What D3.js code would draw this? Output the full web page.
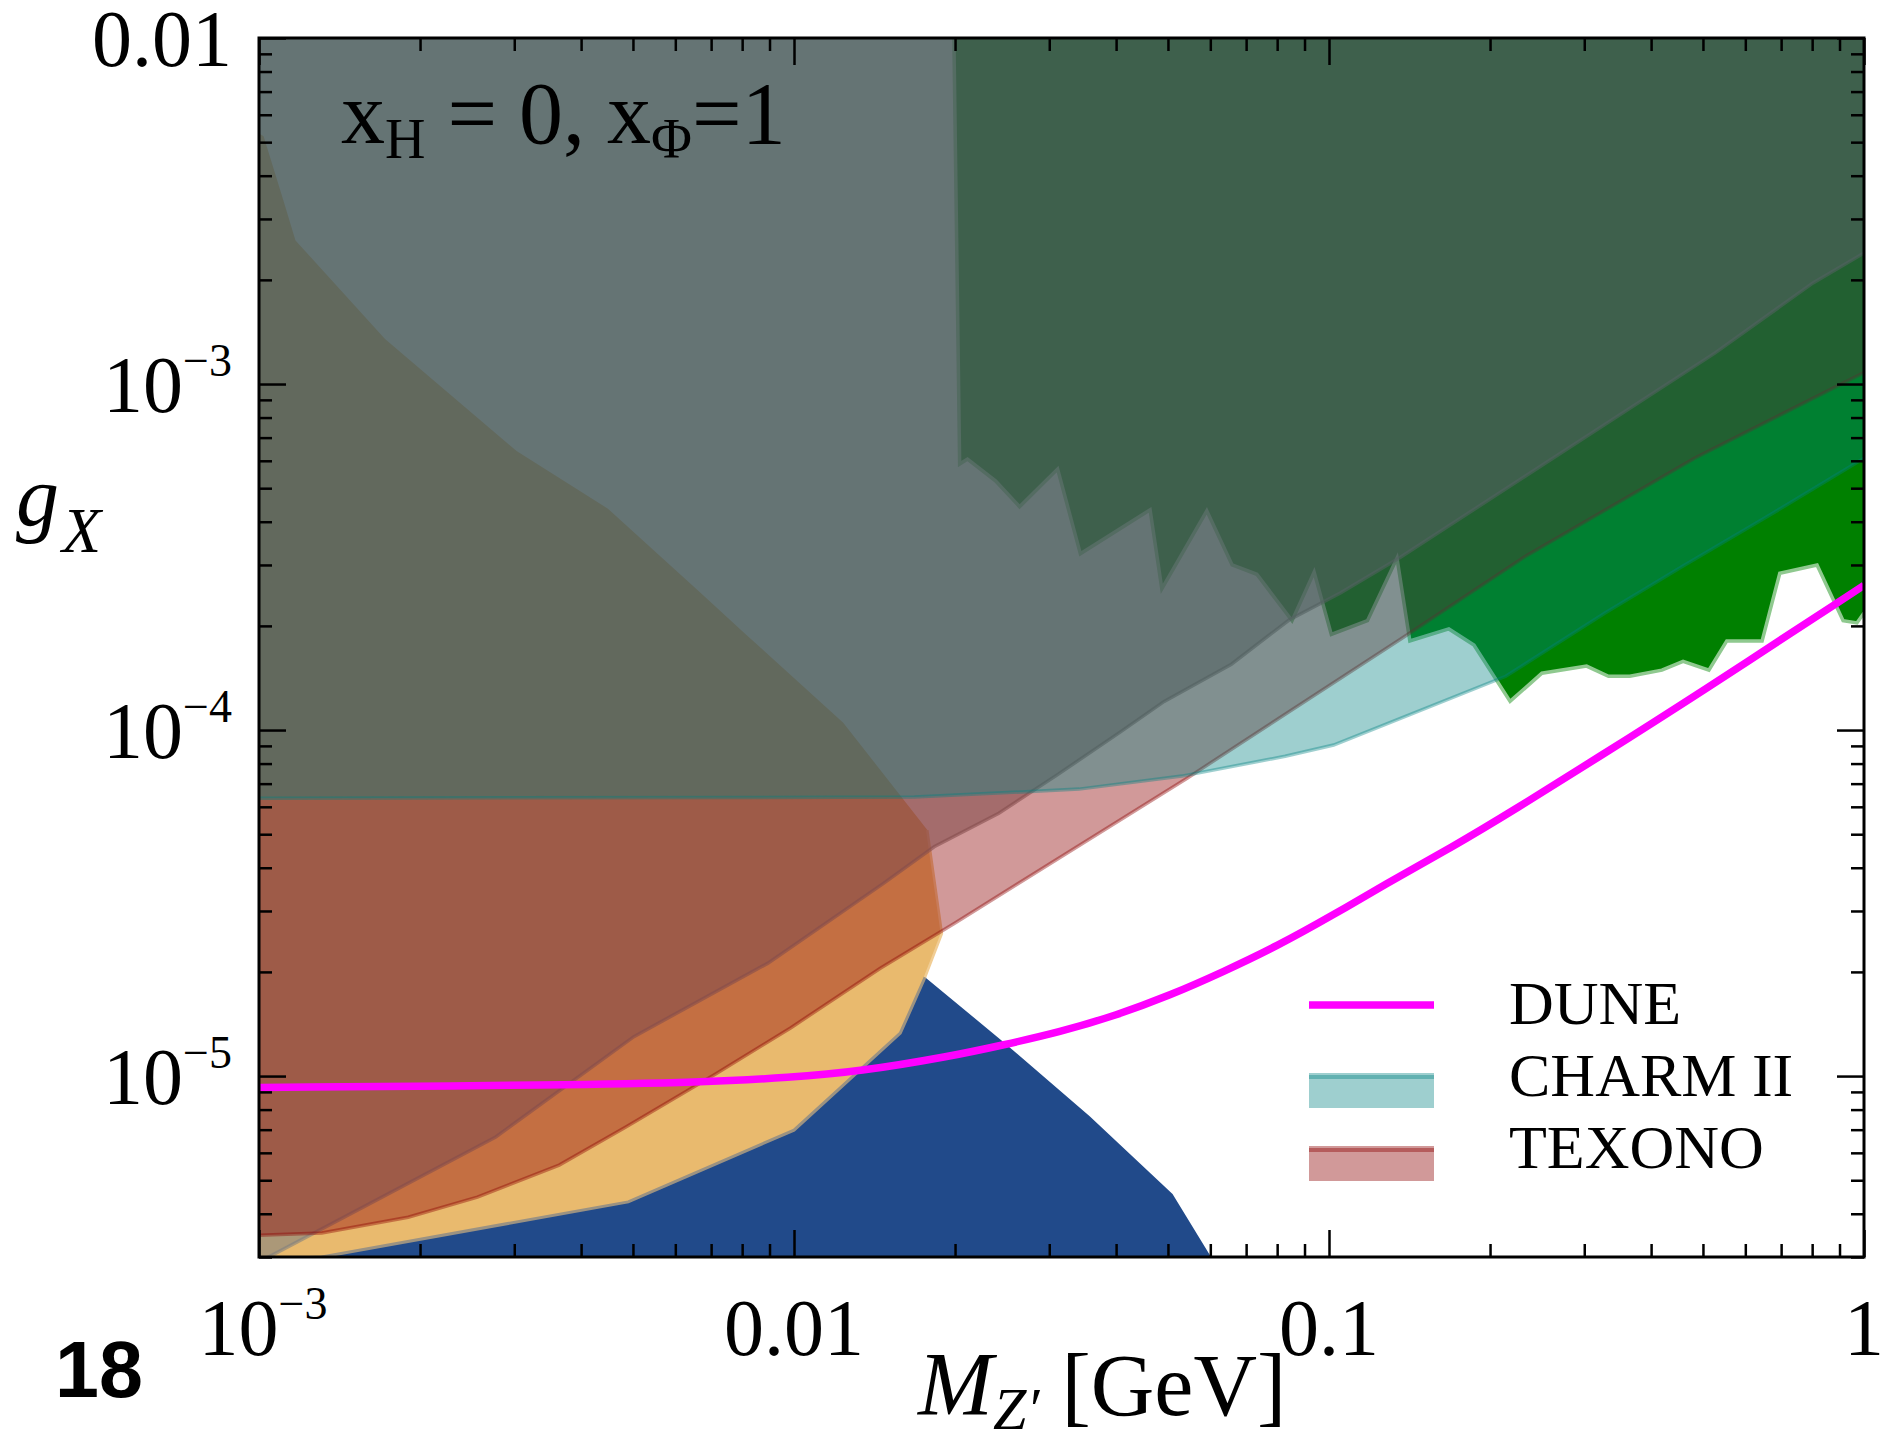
<!DOCTYPE html>
<html>
  <head>
    <meta charset="utf-8">
    <title>g_X vs M_Z' : DUNE, CHARM II, TEXONO</title>
    <script src="https://cdn.jsdelivr.net/npm/d3@7"></script>
    <style>
      body { margin: 0; background: #fff; }
      svg { display: block; }
      text { font-family: 'Liberation Serif', 'Times New Roman', serif; fill: #000; }
      text.panel { font-family: 'Liberation Sans', Arial, sans-serif; font-weight: bold; }
    </style>
  </head>
  <body>
    <svg></svg>
    <script>
      // every curve is a list of [M_Z' in GeV, g_X]
      let dune = [[1e-3, 9.27e-6], [3.77e-3, 9.42e-6], [6.7e-3, 9.6e-6], [9.87e-3, 9.9e-6],
                  [0.0132, 1.03e-5], [0.0196, 1.14e-5], [0.0246, 1.23e-5], [0.0314, 1.34e-5],
                  [0.0401, 1.50e-5], [0.0504, 1.71e-5], [0.0634, 2.0e-5], [0.0798, 2.37e-5],
                  [0.1018, 2.92e-5], [0.1264, 3.56e-5], [0.1684, 4.55e-5], [0.223, 5.9e-5],
                  [0.317, 8.3e-5], [0.478, 1.24e-4], [1, 2.62e-4]];

      let charm = [[1e-3, 6.35e-5], [0.0168, 6.4e-5], [0.0341, 6.75e-5], [0.0531, 7.36e-5],
                   [0.0828, 8.4e-5], [0.102, 9.05e-5], [0.136, 1.08e-4], [0.214, 1.43e-4],
                   [0.328, 2.18e-4], [0.459, 2.98e-4], [0.644, 4.05e-4], [1, 6.1e-4]];

      let texono = [[1e-3, 3.47e-6], [1.31e-3, 3.52e-6], [1.9e-3, 3.91e-6], [2.56e-3, 4.47e-6],
                    [3.64e-3, 5.53e-6], [4.85e-3, 7.13e-6], [7.11e-3, 1.01e-5], [9.87e-3, 1.38e-5],
                    [0.0145, 2.05e-5], [0.02, 2.77e-5], [0.0543, 7.26e-5], [0.136, 1.83e-4],
                    [0.233, 3.18e-4], [0.483, 6.11e-4], [1, 1.08e-3]];

      // lower edge of the big grey bound
      let grayEdge = [[1e-3, 2.9e-6], [1.62e-3, 4.3e-6], [2.77e-3, 6.67e-6], [5.02e-3, 1.3e-5],
                      [8.94e-3, 2.12e-5], [0.01472, 3.61e-5], [0.01828, 4.6e-5], [0.02415, 5.75e-5],
                      [0.031, 7.41e-5], [0.0407, 9.86e-5], [0.0492, 1.21e-4], [0.0657, 1.55e-4],
                      [0.0842, 2.08e-4], [0.105, 2.49e-4], [0.136, 3.16e-4], [0.233, 5.42e-4],
                      [0.527, 1.23e-3], [0.803, 1.96e-3], [1, 2.39e-3]];

      // jagged lower edge of the green bound
      let greenEdge = [[0.0199, 1e-2], [0.0204, 5.87e-4], [0.0211, 6.07e-4], [0.0238, 5.25e-4],
                       [0.0264, 4.42e-4], [0.0311, 5.68e-4], [0.0343, 3.23e-4], [0.0463, 4.33e-4],
                       [0.0487, 2.56e-4], [0.0591, 4.3e-4], [0.0659, 3.0e-4], [0.0733, 2.82e-4],
                       [0.0853, 2.07e-4], [0.0938, 2.86e-4], [0.101, 1.89e-4], [0.118, 2.07e-4],
                       [0.134, 3.14e-4], [0.1416, 1.81e-4], [0.1675, 1.96e-4], [0.1866, 1.76e-4],
                       [0.218, 1.21e-4], [0.25, 1.46e-4], [0.303, 1.53e-4], [0.333, 1.43e-4],
                       [0.365, 1.43e-4], [0.419, 1.49e-4], [0.459, 1.58e-4], [0.513, 1.49e-4],
                       [0.554, 1.81e-4], [0.645, 1.81e-4], [0.696, 2.84e-4], [0.817, 3.0e-4],
                       [0.914, 2.07e-4], [0.97, 2.04e-4], [1, 2.18e-4]];

      // yellow bound: lower edge (shared with the blue one), then right and upper edge
      let yellowLower = [[1e-3, 2.95e-6], [1.31e-3, 3.0e-6], [4.9e-3, 4.33e-6], [0.01, 6.98e-6],
                         [0.0158, 1.33e-5], [0.01758, 1.93e-5]];
      let yellowUpper = [[0.0189, 2.58e-5], [0.01775, 5.14e-5], [0.01236, 1.05e-4], [8.13e-3, 1.89e-4],
                         [6.67e-3, 2.5e-4], [4.49e-3, 4.36e-4], [3.03e-3, 6.4e-4], [1.72e-3, 1.35e-3],
                         [1.17e-3, 2.6e-3], [1.11e-3, 3.4e-3], [1.02e-3, 5.2e-3], [1e-3, 5.3e-3]];

      // right edge of the blue bound
      let blueRight = [[0.0244, 1.27e-5], [0.0357, 7.66e-6], [0.051, 4.56e-6], [0.061, 2.9e-6]];

      let yMajor = [1e-2, 1e-3, 1e-4, 1e-5];
      let yLabels = [["0.01", ""], ["10", "−3"], ["10", "−4"], ["10", "−5"]];
      let xMajor = [1e-3, 1e-2, 1e-1, 1];
      let xLabels = [["10", "−3"], ["0.01", ""], ["0.1", ""], ["1", ""]];
      let legendNames = ["DUNE", "CHARM II", "TEXONO"];

      let w = 1894, h = 1441;
      let margin = {top: 38, bottom: 184, left: 259, right: 30};

      let x = d3.scaleLog()
                .domain([1e-3, 1])
                .range([margin.left, w - margin.right]);
      let y = d3.scaleLog()
                .domain([3e-6, 1e-2])
                .range([h - margin.bottom, margin.top]);

      let svg = d3.select("svg")
                  .attr("width", w)
                  .attr("height", h)
                  .attr("viewBox", `0 0 ${w} ${h}`);

      svg.append("clipPath")
         .attr("id", "plotClip")
         .append("rect")
         .attr("x", margin.left)
         .attr("y", margin.top)
         .attr("width", w - margin.right - margin.left)
         .attr("height", h - margin.bottom - margin.top);

      let plot = svg.append("g").attr("clip-path", "url(#plotClip)");

      let line = d3.line().x(d => x(d[0])).y(d => y(d[1]));
      let smooth = d3.line().x(d => x(d[0])).y(d => y(d[1])).curve(d3.curveBasis);
      let above = d3.area().x(d => x(d[0])).y0(d => y(d[1])).y1(margin.top - 20);

      //blue and yellow bounds, opaque
      plot.append("path")
          .attr("d", line(yellowLower.slice(1).concat(blueRight)) + "Z")
          .attr("fill", "#214a8a");

      plot.append("path")
          .attr("d", line(yellowLower.concat(yellowUpper)) + "Z")
          .attr("fill", "#e9ba6e");

      plot.append("path")
          .attr("d", line(yellowLower))
          .attr("fill", "none")
          .attr("stroke", "#9b9282")
          .attr("stroke-width", 3);

      plot.append("path")
          .attr("d", line(yellowLower.slice(-1).concat(yellowUpper.slice(0, 2))))
          .attr("fill", "none")
          .attr("stroke", "#f1cd94")
          .attr("stroke-width", 2.5);

      //green bound with its light outline
      plot.append("path")
          .attr("d", above(greenEdge))
          .attr("fill", "#008000");

      plot.append("path")
          .attr("d", line(greenEdge))
          .attr("fill", "none")
          .attr("stroke", "#8fc98f")
          .attr("stroke-width", 3.5);

      //translucent bounds, stacked like the original
      let bands = [
        {edge: grayEdge, color: "#808080", alpha: 0.59, lw: 3.5},
        {edge: texono, color: "#8b0000", alpha: 0.4, lw: 3.5},
        {edge: charm, color: "#008080", alpha: 0.38, lw: 3.5}
      ];

      bands.forEach(b => {
        plot.append("path")
            .attr("d", above(b.edge))
            .attr("fill", b.color)
            .attr("fill-opacity", b.alpha);

        plot.append("path")
            .attr("d", line(b.edge))
            .attr("fill", "none")
            .attr("stroke", b.color)
            .attr("stroke-opacity", b.alpha)
            .attr("stroke-width", b.lw);
      });

      //DUNE sensitivity
      plot.append("path")
          .attr("d", smooth(dune))
          .attr("fill", "none")
          .attr("stroke", "#ff00ff")
          .attr("stroke-width", 7.5);

      //ticks on all four sides, pointing inward
      let isDecade = v => Math.abs(Math.log10(v) - Math.round(Math.log10(v))) < 1e-6;
      let xMinor = x.ticks().filter(v => !isDecade(v));
      let yMinor = y.ticks().filter(v => !isDecade(v));

      let addTicks = (axis, tx, ty, values, size) => {
        svg.append("g")
           .attr("transform", `translate(${tx},${ty})`)
           .call(axis.tickValues(values).tickSize(size).tickFormat(() => ""))
           .call(g => g.select(".domain").remove())
           .call(g => g.selectAll("line").attr("stroke-width", 2.5));
      };

      let x0 = margin.left, x1 = w - margin.right;
      let y0 = h - margin.bottom, y1 = margin.top;

      addTicks(d3.axisBottom(x), 0, y0, xMajor, -27);
      addTicks(d3.axisBottom(x), 0, y0, xMinor, -13);
      addTicks(d3.axisTop(x), 0, y1, xMajor, -27);
      addTicks(d3.axisTop(x), 0, y1, xMinor, -13);
      addTicks(d3.axisLeft(y), x0, 0, yMajor, -27);
      addTicks(d3.axisLeft(y), x0, 0, yMinor, -13);
      addTicks(d3.axisRight(y), x1, 0, yMajor, -27);
      addTicks(d3.axisRight(y), x1, 0, yMinor, -13);

      svg.append("rect")
         .attr("x", x0)
         .attr("y", y1)
         .attr("width", x1 - x0)
         .attr("height", y0 - y1)
         .attr("fill", "none")
         .attr("stroke", "#000")
         .attr("stroke-width", 3);

      //tick labels with superscript exponents
      let writeLabel = (t, parts) => {
        t.append("tspan").text(parts[0]);
        if (parts[1]) {
          t.append("tspan")
           .attr("font-size", 46)
           .attr("dy", -36)
           .text(parts[1]);
        }
      };

      yMajor.forEach((v, i) => {
        let t = svg.append("text")
                   .attr("x", 232)
                   .attr("y", y(v) + 28)
                   .attr("text-anchor", "end")
                   .attr("font-size", 80);
        writeLabel(t, yLabels[i]);
      });

      xMajor.forEach((v, i) => {
        let t = svg.append("text")
                   .attr("x", x(v) + (i == 0 ? 4 : 0))
                   .attr("y", 1355)
                   .attr("text-anchor", "middle")
                   .attr("font-size", 80);
        writeLabel(t, xLabels[i]);
      });

      //axis titles
      let yTitle = svg.append("text")
                      .attr("x", 16)
                      .attr("y", 525)
                      .attr("font-size", 86)
                      .attr("font-style", "italic");
      yTitle.append("tspan").text("g");
      yTitle.append("tspan").attr("font-size", 64).attr("dy", 27).attr("dx", 3).text("X");

      let xTitle = svg.append("text")
                      .attr("x", 918)
                      .attr("y", 1415)
                      .attr("font-size", 90);
      xTitle.append("tspan").attr("font-style", "italic").text("M");
      xTitle.append("tspan").attr("font-style", "italic").attr("font-size", 60).attr("dy", 14).text("Z′");
      xTitle.append("tspan").attr("dy", -14).attr("font-size", 88).text(" [GeV]");

      //model label
      let note = svg.append("text")
                    .attr("x", 341)
                    .attr("y", 143)
                    .attr("font-size", 88);
      note.append("tspan").text("x");
      note.append("tspan").attr("font-size", 56).attr("dy", 15).text("H");
      note.append("tspan").attr("dy", -15).text(" = 0, x");
      note.append("tspan").attr("font-size", 56).attr("dy", 15).text("Φ");
      note.append("tspan").attr("dy", -15).text("=1");

      //legend
      let lx = 1309, lw = 125;
      svg.append("line")
         .attr("x1", lx).attr("x2", lx + lw)
         .attr("y1", 1005).attr("y2", 1005)
         .attr("stroke", "#ff00ff")
         .attr("stroke-width", 7.5);

      [{top: 1073, color: "#008080", alpha: 0.38}, {top: 1146, color: "#8b0000", alpha: 0.4}].forEach(p => {
        svg.append("rect")
           .attr("x", lx).attr("y", p.top)
           .attr("width", lw).attr("height", 35)
           .attr("fill", p.color)
           .attr("fill-opacity", p.alpha);
        svg.append("line")
           .attr("x1", lx).attr("x2", lx + lw)
           .attr("y1", p.top + 4).attr("y2", p.top + 4)
           .attr("stroke", p.color)
           .attr("stroke-opacity", p.alpha)
           .attr("stroke-width", 4);
      });

      legendNames.forEach((name, i) => {
        svg.append("text")
           .attr("x", 1509)
           .attr("y", 1024 + i * 72)
           .attr("font-size", 62)
           .text(name);
      });

      //panel number
      svg.append("text")
         .attr("class", "panel")
         .attr("x", 55)
         .attr("y", 1397)
         .attr("font-size", 79)
         .text("18");
    </script>
  </body>
</html>
